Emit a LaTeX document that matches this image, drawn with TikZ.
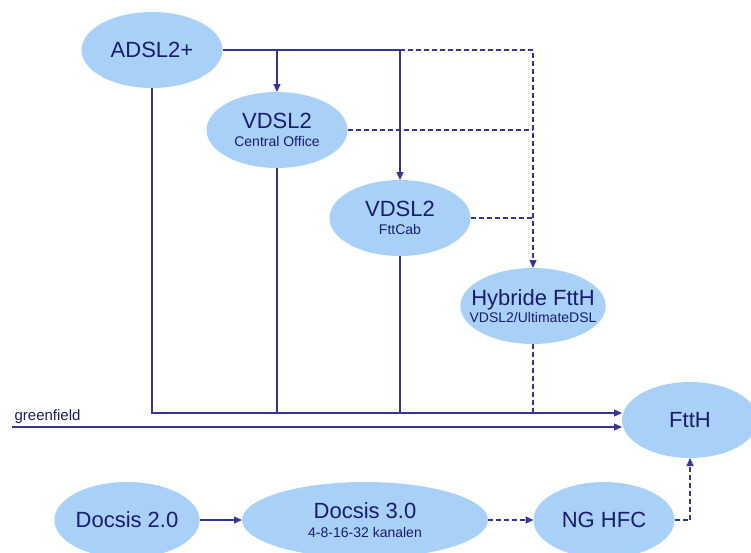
\documentclass[tikz,border=0pt]{standalone}
\usepackage{fontspec}
\setmainfont{Liberation Sans}
\usetikzlibrary{shapes.geometric,arrows.meta,calc}
\definecolor{bubblefill}{HTML}{A9D1F7}
\definecolor{inkblue}{HTML}{1A1A70}
\definecolor{lineblue}{HTML}{34349A}
\newcommand{\subtext}[1]{{\fontsize{14}{16}\selectfont #1}}

\begin{document}
\begin{tikzpicture}[x=1pt, y=-1pt, line width=1.2pt, color=lineblue,
    bubble/.style = {ellipse, fill=bubblefill, text=inkblue, inner sep=0pt, outer sep=0pt,
      minimum width=141pt, minimum height=76pt, align=center, font=\fontsize{22}{24}\selectfont},
    link/.style = {-{Triangle[length=8pt,width=7pt]}},
    dashlink/.style = {dash pattern=on 5pt off 3pt}]
  \clip (0,0) rectangle (751,552);

  \node[bubble] (adsl) at (152,50) {ADSL2+};
  \node[bubble] (vdslco) at (277,130) {VDSL2\\[-6pt]\subtext{Central Office}};
  \node[bubble] (vdslcab) at (400,218) {VDSL2\\[-6pt]\subtext{FttCab}};
  \node[bubble, inner xsep=-12pt] (hybrid) at (533,306) {Hybride FttH\\[-7pt]\subtext{VDSL2/UltimateDSL}};
  \node[bubble, minimum width=136pt] (ftth) at (690,420) {FttH};
  \node[bubble] (docsisA) at (127,520) {Docsis 2.0};
  \node[bubble, minimum width=246pt] (docsisB) at (365,520) {Docsis 3.0\\[-5pt]\subtext{4-8-16-32 kanalen}};
  \node[bubble] (nghfc) at (604,520) {NG HFC};

  \coordinate (merge) at ($(ftth.west)+(0,-7)$);
  \coordinate (green) at (12,427);
  \node[anchor=base west, text=inkblue, inner sep=0pt, font=\fontsize{15}{17}\selectfont]
    (greenlabel) at (14,420) {greenfield};

  \draw (adsl.east) -- (adsl.east -| vdslcab);
  \draw[dashlink, link] (adsl.east -| vdslcab) -- (adsl.east -| hybrid) -- (hybrid.north);
  \draw[link] (adsl.east -| vdslco) -- (vdslco.north);
  \draw[link] (adsl.east -| vdslcab) -- (vdslcab.north);
  \draw[dashlink] (vdslco.east) -- (vdslco.east -| hybrid);
  \draw[dashlink] (vdslcab.east) -- (vdslcab.east -| hybrid);

  \draw[link] (adsl.south) |- (merge);
  \draw (vdslco.south) -- (vdslco |- merge);
  \draw (vdslcab.south) -- (vdslcab |- merge);
  \draw[dashlink] (hybrid.south) -- (hybrid |- merge);
  \draw[link] (green) -- (green -| ftth.west);

  \draw[link] (docsisA.east) -- (docsisB.west);
  \draw[dashlink, link] (docsisB.east) -- (nghfc.west);
  \draw[dashlink, link] (nghfc.east) -| (ftth.south);
\end{tikzpicture}
\end{document}
